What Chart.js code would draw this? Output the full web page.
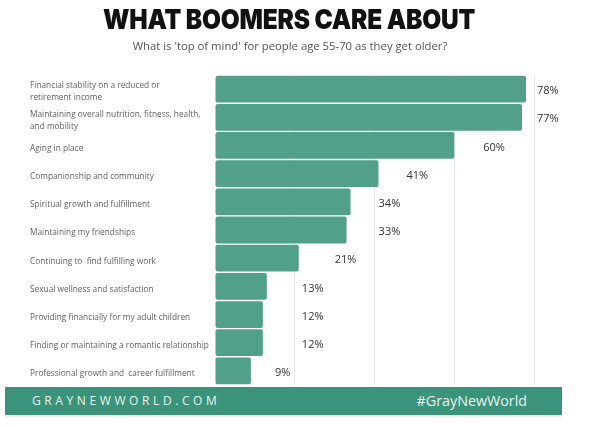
<!DOCTYPE html>
<html>
<head>
<meta charset="utf-8">
<script src="https://cdn.jsdelivr.net/npm/chart.js@4.4.1/dist/chart.umd.min.js"></script>
<style>
  html, body { margin: 0; padding: 0; background: #fff; }
  #page { position: relative; width: 602px; height: 426px; overflow: hidden; }
  #title {
    position: absolute; left: 0; top: 2px; width: 578px; text-align: center;
    font-family: "Inter", "Lato", sans-serif; font-weight: 900; font-size: 24.5px;
    line-height: 30px; color: #111; letter-spacing: -0.2px;
    transform: scaleY(1.12); transform-origin: 50% 0;
  }
  #subtitle {
    position: absolute; left: 0; top: 38px; width: 580px; text-align: center;
    font-family: "Open Sans", sans-serif; font-size: 11.3px; line-height: 16px; color: #555;
  }
  #chartBox { position: absolute; left: 0; top: 0; width: 602px; height: 426px; }
  #band {
    position: absolute; left: 5px; top: 387px; width: 557px; height: 28px;
    background: #3a937a; border-bottom: 2px solid #eeeeee;
  }
  #site {
    position: absolute; left: 27px; top: 0; line-height: 28px;
    font-family: "Open Sans", sans-serif; font-size: 12px; letter-spacing: 3.6px; color: #e9f4f0;
  }
  #tag {
    position: absolute; right: 35px; top: 0; line-height: 28px;
    font-family: "Open Sans", sans-serif; font-size: 14.3px; color: #e9f4f0;
  }
</style>
</head>
<body>
<div id="page">
  <div id="chartBox"><canvas id="chart" width="602" height="426"></canvas></div>
  <div id="title">WHAT BOOMERS CARE ABOUT</div>
  <div id="subtitle">What is 'top of mind' for people age 55-70 as they get older?</div>
  <div id="band"><span id="site">GRAYNEWWORLD.COM</span><span id="tag">#GrayNewWorld</span></div>
</div>
<script>
// Survey topics (multi-line where the label wraps)
const categories = [
  ["Financial stability on a reduced or", "retirement income"],
  ["Maintaining overall nutrition, fitness, health,", "and mobility"],
  "Aging in place",
  "Companionship and community",
  "Spiritual growth and fulfillment",
  "Maintaining my friendships",
  "Continuing to  find fulfilling work",
  "Sexual wellness and satisfaction",
  "Providing financially for my adult children",
  "Finding or maintaining a romantic relationship",
  "Professional growth and  career fulfillment"
];

// Share of respondents naming each topic (%)
const shares = [78, 77, 60, 41, 34, 33, 21, 13, 12, 12, 9];

// Value axis ticks (%)
const axisTicks = [0, 20, 40, 60, 80];

// Gap in px between each bar's end and its percentage label
const labelGaps = [11, 15, 29, 28, 28, 32, 36, 35, 39, 39, 24];

const valueLabels = {
  id: 'valueLabels',
  afterDatasetsDraw(chart) {
    const ctx = chart.ctx;
    const meta = chart.getDatasetMeta(0);
    ctx.save();
    ctx.font = '11px "Open Sans", sans-serif';
    ctx.fillStyle = '#333';
    ctx.textAlign = 'left';
    ctx.textBaseline = 'middle';
    meta.data.forEach((bar, i) => {
      const v = chart.data.datasets[0].data[i];
      ctx.fillText(v + '%', bar.x + labelGaps[i], bar.y + 2);
    });
    ctx.restore();
  }
};

new Chart(document.getElementById('chart'), {
  type: 'bar',
  data: {
    labels: categories,
    datasets: [{
      data: shares,
      backgroundColor: '#52a08a',
      borderRadius: 2,
      borderSkipped: false,
      barPercentage: 1,
      categoryPercentage: 0.95
    }]
  },
  plugins: [valueLabels],
  options: {
    indexAxis: 'y',
    responsive: false,
    animation: false,
    devicePixelRatio: 1,
    layout: { padding: { top: 75, bottom: 41, left: 30, right: 68 } },
    plugins: { legend: { display: false }, tooltip: { enabled: false } },
    scales: {
      x: {
        min: axisTicks[0],
        max: axisTicks[axisTicks.length - 1],
        afterBuildTicks(scale) { scale.ticks = axisTicks.map(v => ({ value: v })); },
        ticks: { display: false },
        border: { display: false },
        grid: {
          color: ctx => ctx.tick && ctx.tick.value === 0 ? 'rgba(0,0,0,0)' : '#e6e6e6',
          drawTicks: false
        }
      },
      y: {
        afterFit(scale) { scale.width = 185; },
        border: { display: false },
        grid: { display: false, drawTicks: false },
        ticks: {
          crossAlign: 'far',
          padding: 0,
          labelOffset: 3,
          color: '#5f5f5f',
          font: { family: '"Open Sans", sans-serif', size: 8.3, lineHeight: 1.45 }
        }
      }
    }
  }
});
</script>
</body>
</html>
